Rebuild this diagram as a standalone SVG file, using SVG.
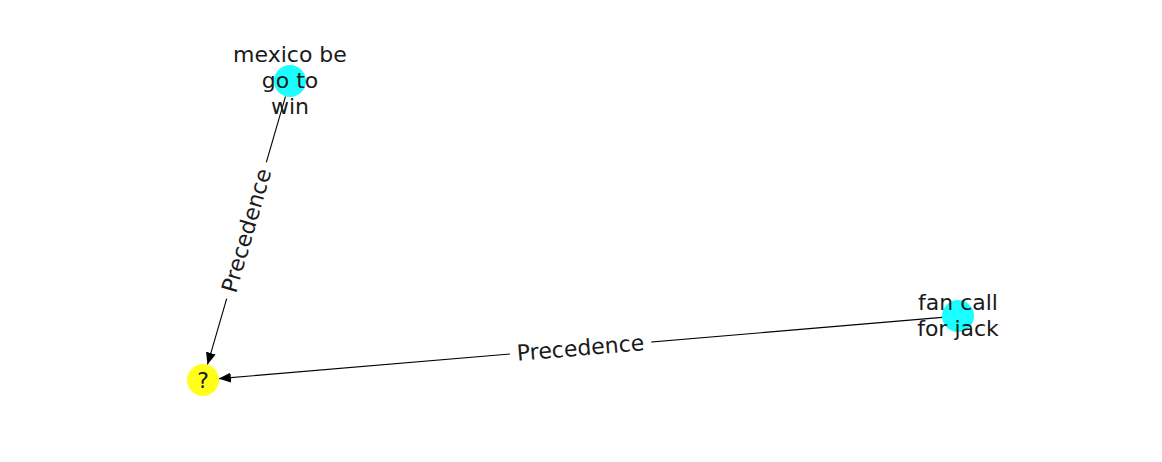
<svg xmlns="http://www.w3.org/2000/svg" width="1162" height="462" viewBox="0 0 1162 462">
<style>
text{font-family:"DejaVu Sans",sans-serif;font-size:22px;fill:#1a1a1a;text-anchor:middle;dominant-baseline:central}
.edge{stroke:#000;stroke-width:1.1;fill:none}
.lblbg{fill:#fff}
.cyan{fill:#00ffff;opacity:0.9}
.yellow{fill:#ffff00;opacity:0.9}
</style>
<defs>
<marker id="arr" viewBox="0 0 12 10" refX="12" refY="5" markerWidth="12" markerHeight="10" markerUnits="userSpaceOnUse" orient="auto">
<path d="M0,0 L12,5 L0,10 Z" fill="#000"/>
</marker>
</defs>
<rect width="1162" height="462" fill="#fff"/>
<g id="connectors">
<line class="edge" x1="285.5" y1="96.4" x2="207.5" y2="364.6" marker-end="url(#arr)"/>
<line class="edge" x1="942.1" y1="317.4" x2="218.9" y2="378.6" marker-end="url(#arr)"/>
<g transform="translate(246.5,230.5) rotate(-73.8)">
<rect class="lblbg" x="-71" y="-15" width="142" height="30"/>
<text x="0" y="0">Precedence</text>
</g>
<g transform="translate(580.5,348) rotate(-4.85)">
<rect class="lblbg" x="-71" y="-15" width="142" height="30"/>
<text x="0" y="0">Precedence</text>
</g>
</g>
<g id="node-mexico">
<circle class="cyan" cx="290" cy="81" r="16"/>
<text x="290" y="54">mexico be</text>
<text x="290" y="80">go to</text>
<text x="290" y="106">win</text>
</g>
<g id="node-fan">
<circle class="cyan" cx="958" cy="316" r="16"/>
<text x="958" y="302">fan call</text>
<text x="958" y="328">for jack</text>
</g>
<g id="node-q">
<circle class="yellow" cx="203" cy="380" r="16"/>
<text x="203" y="380">?</text>
</g>
</svg>
